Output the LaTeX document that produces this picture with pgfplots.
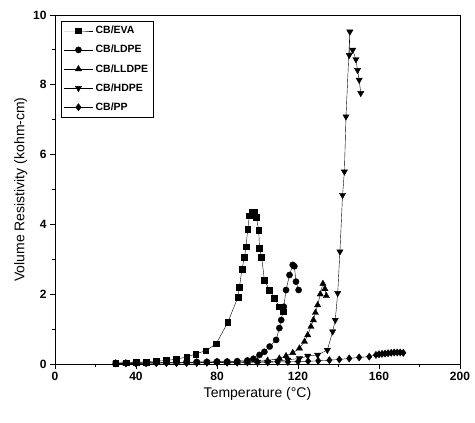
\documentclass[border=0pt]{standalone}
\usepackage{fontspec}
\setmainfont{Liberation Sans}
\usepackage{pgfplots}
\pgfplotsset{compat=1.18}

\begin{document}
\begin{tikzpicture}
\begin{axis}[
  scale only axis,width=405pt,height=349pt,
  xmin=0,xmax=200,ymin=0,ymax=10,
  xtick={0,40,...,200},ytick={0,2,...,10},
  minor x tick num=1,minor y tick num=1,
  xtick pos=left,ytick pos=left,tick align=outside,
  major tick length=5pt,minor tick length=3pt,
  axis line style={line width=0.9pt},
  every tick/.style={black,line width=0.8pt},
  /pgf/number format/assume math mode=true,
  tick label style={font=\bfseries\fontsize{12}{14}\selectfont},
  label style={font=\fontsize{14}{16}\selectfont},
  xlabel={Temperature (\textdegree C)},
  ylabel={Volume Resistivity (kohm-cm)},
  xlabel style={yshift=1pt},
  ylabel style={yshift=-1pt},
  legend style={at={(0,1)},anchor=north west,xshift=6pt,yshift=-6pt,
    draw=black,line width=0.5pt,font=\bfseries\fontsize{10.5}{12}\selectfont,
    row sep=6pt,inner sep=3pt},
  legend cell align=left,
  legend image code/.code={\draw[mark repeat=2,mark phase=2]
    plot coordinates {(0pt,0pt) (14pt,0pt) (29pt,0pt)};},
  every axis plot/.append style={black,line width=0.4pt},
]
% CB/EVA
\addplot[mark=square*,mark size=2.9pt] coordinates {
 (30,0.03) (35,0.04) (40,0.05) (45,0.06) (50,0.08) (55,0.10) (60,0.14)
 (65,0.20) (69.5,0.29) (74.4,0.38) (79.6,0.58) (85.3,1.19) (90.3,1.91)
 (91.1,2.21) (92.3,2.71) (93.6,3.06) (94.3,3.36) (95.2,3.87) (96,4.25)
 (97.5,4.36) (98.6,4.34) (99.4,4.2) (100.6,3.84) (101,3.31) (102,3.07)
 (103.4,2.41) (105.9,2.12) (108.4,1.88) (110.8,1.64) (112.5,1.50)};
\addlegendentry{CB/EVA}
% CB/LDPE
\addplot[mark=*,mark size=3.1pt] coordinates {
 (30,0.02) (35,0.03) (40,0.03) (45,0.04) (50,0.04) (55,0.05) (60,0.05)
 (65,0.05) (70,0.06) (75,0.06) (80,0.07) (85,0.07) (90,0.08) (95,0.10)
 (98,0.15) (101,0.26) (103.4,0.35) (106,0.50) (109.2,0.69) (110.8,1.03)
 (111.7,1.26) (113,1.64) (114.1,2.12) (115.8,2.55) (117.4,2.84)
 (118.2,2.80) (119,2.36) (120.3,2.12)};
\addlegendentry{CB/LDPE}
% CB/LLDPE
\addplot[mark=triangle*,mark size=3.6pt] coordinates {
 (30,0.02) (35,0.02) (40,0.03) (45,0.03) (50,0.03) (55,0.04) (60,0.04)
 (65,0.04) (70,0.05) (75,0.05) (80,0.05) (85,0.06) (90,0.06) (95,0.07)
 (100,0.08) (105,0.10) (110.8,0.16) (114.1,0.23) (117.4,0.32) (120.7,0.45)
 (123.2,0.64) (124.8,0.83) (126.4,1.07) (127.6,1.26) (128.6,1.47)
 (129.7,1.69) (131,2.00) (132.3,2.30) (133.3,2.15) (134,1.95)};
\addlegendentry{CB/LLDPE}
% CB/HDPE
\addplot[mark=triangle*,mark options={rotate=180},mark size=3.6pt] coordinates {
 (30,0.02) (35,0.02) (40,0.02) (45,0.03) (50,0.03) (55,0.03) (60,0.03)
 (65,0.04) (70,0.04) (75,0.04) (80,0.04) (85,0.05) (90,0.05) (95,0.05)
 (100,0.06) (105,0.06) (110,0.08) (115,0.12) (120.7,0.16) (124.8,0.23)
 (129.7,0.26) (134.5,0.40) (137.1,0.93) (138.4,1.26) (139.6,2.03)
 (140.7,3.22) (142,4.84) (142.9,5.51) (143.7,7.09) (145.6,9.52)
 (145.3,8.85) (147,9.0) (148.6,8.73) (149.4,8.42) (150.2,8.14) (151,7.76)};
\addlegendentry{CB/HDPE}
% CB/PP
\addplot[mark=diamond*,mark size=3.6pt] coordinates {
 (30,0.02) (35,0.02) (40,0.02) (45,0.02) (50,0.03) (55,0.03) (60,0.03)
 (65,0.03) (70,0.03) (75,0.04) (80,0.04) (85,0.04) (90,0.04) (95,0.05)
 (100,0.05) (105,0.05) (110,0.06) (115,0.06) (120,0.07) (125,0.08)
 (130,0.09) (135.5,0.11) (140.4,0.13) (145.3,0.16) (150.2,0.19)
 (155.2,0.21) (158.5,0.26) (160,0.28) (161.5,0.29) (163,0.30) (164.5,0.31)
 (166,0.32) (167.5,0.33) (169,0.33) (170.5,0.33) (172,0.32)};
\addlegendentry{CB/PP}
\end{axis}
\pgfresetboundingbox
\path ([shift={(-55pt,-58pt)}]current axis.south west)
  rectangle ([shift={(15pt,15pt)}]current axis.north east);
\end{tikzpicture}
\end{document}
